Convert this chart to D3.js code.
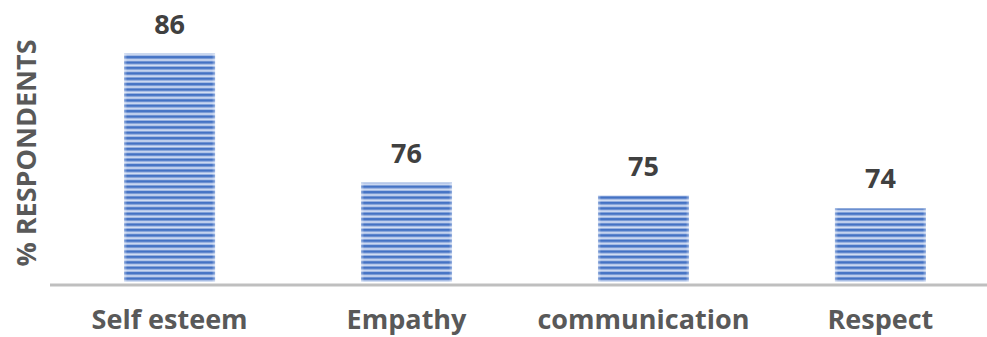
<!DOCTYPE html>
<html><head><meta charset="utf-8">
<script src="https://cdn.jsdelivr.net/npm/d3@7/dist/d3.min.js"></script>
<style>html,body{margin:0;padding:0;background:#fff;}svg{display:block;}</style>
</head><body>
<div id="chart"></div>
<script>
const categories = ["Self esteem", "Empathy", "communication", "Respect"];
const values = [86, 76, 75, 74];
const labels = ["86", "76", "75", "74"];
const yAxisTitle = "% RESPONDENTS";

const W = 987, H = 337;
const FONT = "'Open Sans', Lato, sans-serif";
const svg = d3.select("#chart").append("svg").attr("width", W).attr("height", H);

const defs = svg.append("defs");
const pat = defs.append("pattern").attr("id", "stripes")
  .attr("patternUnits", "userSpaceOnUse").attr("width", 10).attr("height", 5.4)
  .attr("y", 282);
pat.append("rect").attr("width", 10).attr("height", 5.4).attr("fill", "#d3def3");
pat.append("rect").attr("y", 0.2).attr("width", 10).attr("height", 0.6).attr("fill", "#8eaade");
pat.append("rect").attr("y", 0.8).attr("width", 10).attr("height", 2.6).attr("fill", "#4472c4");
pat.append("rect").attr("y", 3.4).attr("width", 10).attr("height", 0.6).attr("fill", "#8eaade");

const gradH = defs.append("linearGradient").attr("id", "edge").attr("x1", 0).attr("x2", 1);
gradH.append("stop").attr("offset", "0").attr("stop-color", "#fff").attr("stop-opacity", 0.4);
gradH.append("stop").attr("offset", "0.035").attr("stop-color", "#fff").attr("stop-opacity", 0);
gradH.append("stop").attr("offset", "0.965").attr("stop-color", "#fff").attr("stop-opacity", 0);
gradH.append("stop").attr("offset", "1").attr("stop-color", "#fff").attr("stop-opacity", 0.4);

const x = d3.scaleBand().domain(categories).range([53, 997]).paddingInner(0.616).paddingOuter(0.3);
const y = d3.scaleLinear().domain([68.3, 86]).range([282, 53.5]);

const bars = svg.append("g");
categories.forEach((c, i) => {
  bars.append("rect").attr("x", x(c)).attr("y", y(values[i]))
    .attr("width", x.bandwidth()).attr("height", y.range()[0] - y(values[i]))
    .attr("fill", "url(#stripes)");
  bars.append("rect").attr("x", x(c)).attr("y", y(values[i]))
    .attr("width", x.bandwidth()).attr("height", y.range()[0] - y(values[i]))
    .attr("fill", "url(#edge)");
  svg.append("text").attr("x", x(c) + x.bandwidth() / 2).attr("y", y(values[i]) - 20)
    .attr("text-anchor", "middle").attr("font-family", FONT)
    .attr("font-weight", "bold").attr("font-size", 27).attr("fill", "#404040").text(labels[i]);
});

// x axis
const xAxis = svg.append("g").attr("transform", "translate(0,285)")
  .call(d3.axisBottom(x).tickSize(0).tickPadding(26));
xAxis.select(".domain").remove();
svg.append("line").attr("x1", 50).attr("x2", 987).attr("y1", 285).attr("y2", 285)
  .attr("stroke", "#bfbfbf").attr("stroke-width", 3);
xAxis.selectAll("text").attr("font-family", FONT)
  .attr("font-weight", "bold").attr("font-size", 27).attr("fill", "#595959")
  .attr("dy", null).attr("y", 44);

svg.append("text").attr("transform", "translate(36,153) rotate(-90)")
  .attr("text-anchor", "middle").attr("font-family", FONT)
  .attr("font-weight", "bold").attr("font-size", 27).attr("fill", "#595959").text(yAxisTitle);
</script>
</body></html>
